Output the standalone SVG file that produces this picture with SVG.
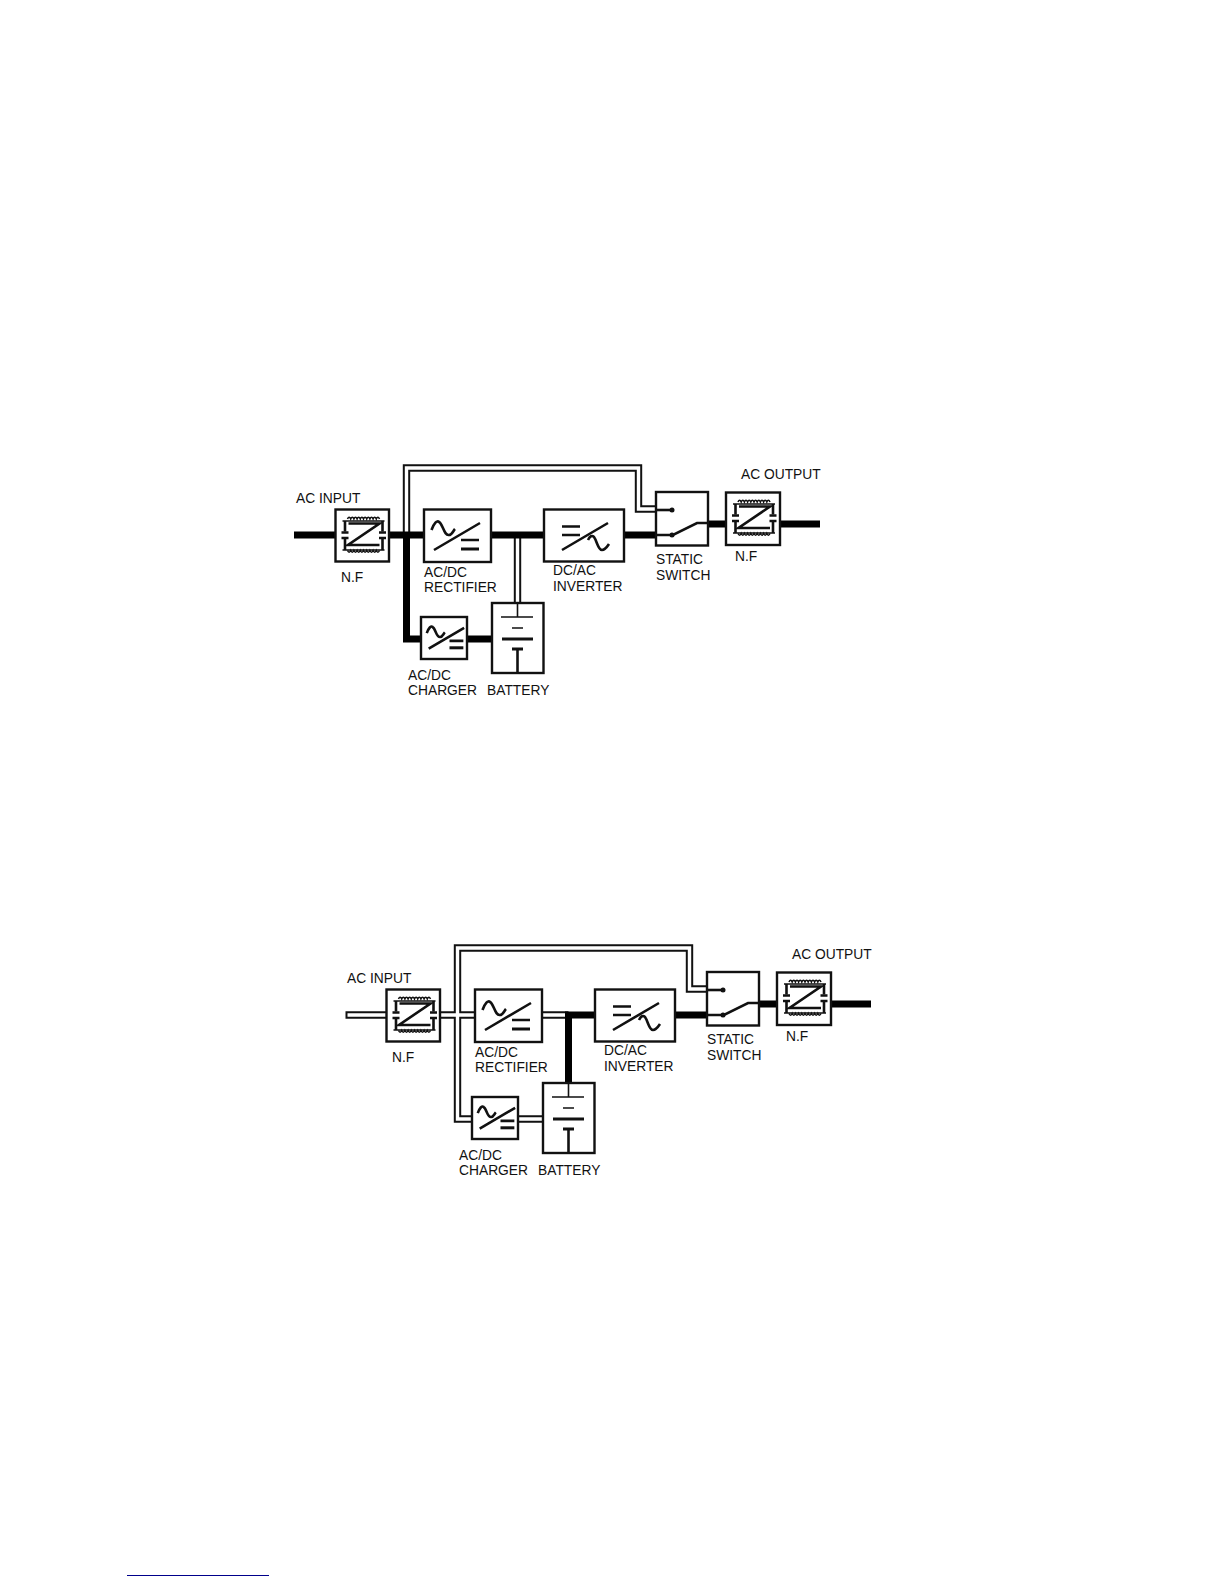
<svg xmlns="http://www.w3.org/2000/svg" xmlns:xlink="http://www.w3.org/1999/xlink" width="1224" height="1584" viewBox="0 0 1224 1584">
<style>
.box{fill:#fff;stroke:#111;stroke-width:2.4}
.ln{fill:none;stroke:#111;stroke-width:1.6}
.md{fill:none;stroke:#111;stroke-width:2.6;vector-effect:non-scaling-stroke}
.hv{fill:none;stroke:#111;stroke-width:3;vector-effect:non-scaling-stroke}
.th{fill:none;stroke:#000;stroke-width:7}
.db{fill:none;stroke:#111;stroke-width:7.4}
.dw{fill:none;stroke:#fff;stroke-width:3.4}
.dot{fill:#111}
text{font-family:"Liberation Sans",Arial,sans-serif;font-size:13.8px;fill:#111}
</style>
<defs>
<g id="nf-icon">
<path class="ln" d="M12,9.500q1.600,-3.400 3.200,0q1.600,-3.400 3.200,0q1.600,-3.400 3.200,0q1.600,-3.400 3.200,0q1.600,-3.400 3.200,0q1.600,-3.400 3.200,0q1.600,-3.400 3.200,0q1.600,-3.400 3.200,0q1.600,-3.400 3.200,0q1.600,-3.400 3.200,0"/>
<path class="ln" d="M12,41q1.600,3.400 3.200,0q1.600,3.400 3.200,0q1.600,3.400 3.200,0q1.600,3.400 3.200,0q1.600,3.400 3.200,0q1.600,3.400 3.200,0q1.600,3.400 3.200,0q1.600,3.400 3.200,0q1.600,3.400 3.200,0q1.600,3.400 3.200,0"/>
<path class="ln" d="M7,11.500H49M7,40.500H49"/>
<path class="md" d="M13,14H44L12.500,35.500H44"/>
<path class="md" d="M9.500,11.500V22M47,11.500V22M9.500,29V40.500M47,29V40.500"/>
<path class="md" d="M6,23H13M43.500,23H50.500M6,28.500H13M43.500,28.500H50.500"/>
</g>
<g id="acdc-icon">
<path class="md" d="M7.500,21C10,14 13,11 15,13C19,15 20,27 25,26C28,26 29,22 31,20"/>
<path class="md" d="M10,41L56,14M37,31H55"/>
<path class="hv" d="M37,40H55"/>
</g>
<g id="dcac-icon">
<path class="md" d="M18,17.500H36M18,26H36M18,41L64,14"/>
<path class="md" d="M44,31C46,27 48,26 50,28C53,32 54,41 58,41C61,41 63,38 65,35"/>
</g>
<g id="batt-icon">
<path class="ln" d="M25.500,0V14M9,14H41M20,25H31"/>
<path class="hv" d="M10,36H41M20,46H31"/>
<path class="md" d="M25.500,46V70"/>
</g>
<g id="switch-icon">
<path class="md" d="M0,43H17L41,31H52"/>
<path class="md" d="M0,18H17"/>
<circle class="dot" cx="16" cy="18" r="2.500"/>
<circle class="dot" cx="16" cy="43" r="2.500"/>
</g>
</defs>

<g id="ups-normal">
<g id="a-connectors">
<path class="db" d="M406.500,532V468H638.500V509H656"/>
<path class="dw" d="M406.500,532V468H638.500V509H656"/>
<path class="db" d="M517.500,535V603"/>
<path class="dw" d="M517.500,535V603"/>
<path class="th" d="M294,535H656M780,524H820M708,524H726"/>
<path class="th" d="M406.500,535V639H421M467,639H492"/>
</g>
<g id="a-nf-in"><rect class="box" x="335.500" y="509.500" width="53.500" height="52"/><use xlink:href="#nf-icon" href="#nf-icon" x="335.500" y="509.500"/><text x="341" y="582">N.F</text></g>
<g id="a-rectifier"><rect class="box" x="424" y="509.500" width="67" height="52.500"/><use xlink:href="#acdc-icon" href="#acdc-icon" x="424" y="509"/><text x="424" y="577">AC/DC</text><text x="424" y="592">RECTIFIER</text></g>
<g id="a-inverter"><rect class="box" x="544" y="509.500" width="80" height="52"/><use xlink:href="#dcac-icon" href="#dcac-icon" x="544" y="509"/><text x="553" y="575">DC/AC</text><text x="553" y="591">INVERTER</text></g>
<g id="a-switch"><rect class="box" x="656" y="492" width="52" height="53.500"/><use xlink:href="#switch-icon" href="#switch-icon" x="656" y="492"/><text x="656" y="564">STATIC</text><text x="656" y="580">SWITCH</text></g>
<g id="a-nf-out"><rect class="box" x="726" y="492.500" width="54" height="52.500"/><use xlink:href="#nf-icon" href="#nf-icon" x="726" y="492.500"/><text x="735" y="561">N.F</text></g>
<g id="a-charger"><rect class="box" x="421" y="617" width="46" height="42"/><use xlink:href="#acdc-icon" href="#acdc-icon" transform="translate(421,617) scale(.77)"/><text x="408" y="680">AC/DC</text><text x="408" y="695">CHARGER</text></g>
<g id="a-battery"><rect class="box" x="492" y="603" width="51.500" height="70"/><use xlink:href="#batt-icon" href="#batt-icon" x="492" y="603"/><text x="487" y="695">BATTERY</text></g>
<text id="a-ac-input" x="296" y="503">AC INPUT</text>
<text id="a-ac-output" x="741" y="479">AC OUTPUT</text>
</g>

<g id="ups-battery" transform="translate(51,480)">
<g id="b-connectors">
<path class="db" d="M294.500,535H335M389,535H424M491,535H517.500M421,639H406.500V468H638.500V509H656M467,639H492"/>
<path class="dw" d="M296.500,535H335M389,535H424M491,535H514M421,639H406.500V468H638.500V509H656M467,639H492"/>
<path class="th" d="M514,535H656M780,524H820M708,524H726"/>
<path class="th" d="M517.500,535V603"/>
</g>
<g id="b-nf-in"><rect class="box" x="335.500" y="509.500" width="53.500" height="52"/><use xlink:href="#nf-icon" href="#nf-icon" x="335.500" y="509.500"/><text x="341" y="582">N.F</text></g>
<g id="b-rectifier"><rect class="box" x="424" y="509.500" width="67" height="52.500"/><use xlink:href="#acdc-icon" href="#acdc-icon" x="424" y="509"/><text x="424" y="577">AC/DC</text><text x="424" y="592">RECTIFIER</text></g>
<g id="b-inverter"><rect class="box" x="544" y="509.500" width="80" height="52"/><use xlink:href="#dcac-icon" href="#dcac-icon" x="544" y="509"/><text x="553" y="575">DC/AC</text><text x="553" y="591">INVERTER</text></g>
<g id="b-switch"><rect class="box" x="656" y="492" width="52" height="53.500"/><use xlink:href="#switch-icon" href="#switch-icon" x="656" y="492"/><text x="656" y="564">STATIC</text><text x="656" y="580">SWITCH</text></g>
<g id="b-nf-out"><rect class="box" x="726" y="492.500" width="54" height="52.500"/><use xlink:href="#nf-icon" href="#nf-icon" x="726" y="492.500"/><text x="735" y="561">N.F</text></g>
<g id="b-charger"><rect class="box" x="421" y="617" width="46" height="42"/><use xlink:href="#acdc-icon" href="#acdc-icon" transform="translate(421,617) scale(.77)"/><text x="408" y="680">AC/DC</text><text x="408" y="695">CHARGER</text></g>
<g id="b-battery"><rect class="box" x="492" y="603" width="51.500" height="70"/><use xlink:href="#batt-icon" href="#batt-icon" x="492" y="603"/><text x="487" y="695">BATTERY</text></g>
<text id="b-ac-input" x="296" y="503">AC INPUT</text>
<text id="b-ac-output" x="741" y="479">AC OUTPUT</text>
</g>

<rect id="footer-rule" x="127" y="1575" width="142" height="1" fill="#00008b"/>
</svg>
